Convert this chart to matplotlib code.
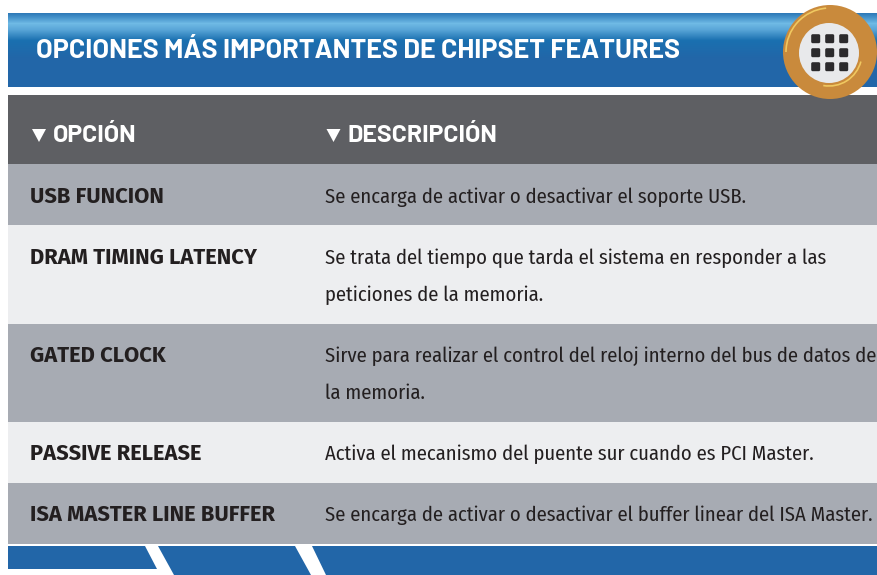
"""Tabla de opciones de Chipset Features."""
import numpy as np
import matplotlib
matplotlib.use('Agg')
import matplotlib.pyplot as plt
from matplotlib.patches import Rectangle, Polygon, Circle, FancyBboxPatch, Arc

W, H = 878, 575

title = "OPCIONES MÁS IMPORTANTES DE CHIPSET FEATURES"
headers = ["OPCIÓN", "DESCRIPCIÓN"]
options = ["USB FUNCION", "DRAM TIMING LATENCY", "GATED CLOCK",
           "PASSIVE RELEASE", "ISA MASTER LINE BUFFER"]
descriptions = [
    ["Se encarga de activar o desactivar el soporte USB."],
    ["Se trata del tiempo que tarda el sistema en responder a las",
     "peticiones de la memoria."],
    ["Sirve para realizar el control del reloj interno del bus de datos de",
     "la memoria."],
    ["Activa el mecanismo del puente sur cuando es PCI Master."],
    ["Se encarga de activar o desactivar el buffer linear del ISA Master."],
]
row_edges = [164, 225, 324, 422, 483, 544]
row_colors = ["#a7abb3", "#edeef0", "#a7abb3", "#edeef0", "#a7abb3"]
baselines = [203, 264, 362, 460, 521]
line_gap = 37

BLUE = "#2266a8"
TEXT = "#231f20"
HEAD_FONT = ['Barlow', 'Open Sans']
BOLD_FONT = ['Fira Sans', 'Roboto']
BODY_FONT = ['Fira Sans Condensed', 'Roboto']

fig = plt.figure(figsize=(W / 100, H / 100), dpi=100)
ax = fig.add_axes([0, 0, 1, 1])

# title band with the light stripe on top
stops = [(0, "#2f7ab8"), (3, "#3f8cc6"), (10, "#6fbae5"), (16, "#5aa6d8"), (27, "#1a70b0"), (45, "#2266a8"), (74, "#2266a8")]
ys = np.arange(74)
rgb = np.array([matplotlib.colors.to_rgb(c) for _, c in stops])
grad = np.stack([np.interp(ys, [s for s, _ in stops], rgb[:, k]) for k in range(3)], axis=1)
ax.imshow(grad[:, None, :], extent=(8, 877, 87, 13), aspect='auto', interpolation='nearest', zorder=1)
ax.set_xlim(0, W)
ax.set_ylim(H, 0)
ax.axis('off')
ax.text(36, 58, title, color='white', fontsize=19.4, fontweight='bold',
        family=HEAD_FONT, va='baseline', zorder=3)

# header and rows
ax.add_patch(Rectangle((8, 95), 869, 69, color="#5e5f63", lw=0, zorder=1))
for hx, tx, label in [(39, 53, headers[0]), (333.5, 348, headers[1])]:
    ax.add_patch(Polygon([(hx - 7, 129), (hx + 7, 129), (hx, 142)], color='white', lw=0, zorder=3))
    ax.text(tx, 142.5, label, color='white', fontsize=17.9, fontweight='bold',
            family=HEAD_FONT, va='baseline', zorder=3)

for i, opt in enumerate(options):
    top, bot = row_edges[i], row_edges[i + 1]
    ax.add_patch(Rectangle((8, top), 869, bot - top, color=row_colors[i], lw=0, zorder=1))
    ax.text(30, baselines[i], opt, color=TEXT, fontsize=15.8, fontweight='bold',
            family=BOLD_FONT, va='baseline', zorder=3)
    for j, line in enumerate(descriptions[i]):
        ax.text(325, baselines[i] + j * line_gap, line, color=TEXT, fontsize=14.8,
                family=BODY_FONT, va='baseline', zorder=3)

# bottom tabs
ax.add_patch(Polygon([(8, 546), (145, 546), (157, 569), (8, 569)], color=BLUE, lw=0))
ax.add_patch(Polygon([(158, 546), (295, 546), (311, 575), (174, 575)], color=BLUE, lw=0))
ax.add_patch(Polygon([(312, 546), (877, 546), (877, 575), (326, 575)], color=BLUE, lw=0))

# round badge
ax.add_patch(Circle((830, 52), 47, color="#c98a3c", lw=0, zorder=4))
ax.add_patch(Arc((830, 52), 88, 88, theta1=180, theta2=265, color="#f0c860", lw=1.2, zorder=5))
ax.add_patch(Arc((829, 53), 66, 66, theta1=15, theta2=100, color="#f0c860", lw=1.2, zorder=5))
ax.add_patch(Circle((829, 53), 30, color="#e8e9eb", lw=0, zorder=5))
for cy in [38.7, 52.7, 66.7]:
    for cx in [815.7, 829.7, 843.7]:
        ax.add_patch(FancyBboxPatch((cx - 3, cy - 3), 6, 6, boxstyle="round,pad=1.5",
                                    color="#2b2a2c", lw=0, zorder=6))

fig.savefig("out.png", dpi=100)
